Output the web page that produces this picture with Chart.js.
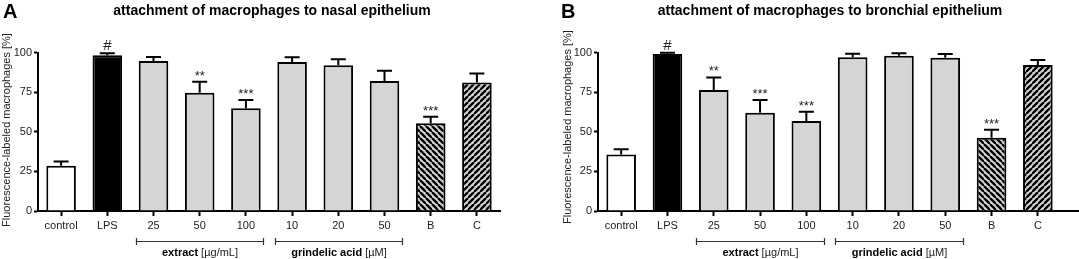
<!DOCTYPE html>
<html>
<head>
<meta charset="utf-8">
<script src="https://cdn.jsdelivr.net/npm/chart.js@4.4.1/dist/chart.umd.min.js"></script>
<style>
  html, body { margin: 0; padding: 0; background: #fff; }
  #wrap { position: relative; width: 1079px; height: 259px; }
  canvas { position: absolute; top: 0; }
</style>
</head>
<body>
<div id="wrap">
  <canvas id="nasal" width="540" height="259" style="left:0"></canvas>
  <canvas id="bronchial" width="539" height="259" style="left:540px"></canvas>
</div>
<script>
// categories / tick labels
const groups = ['control', 'LPS', '25', '50', '100', '10', '20', '50', 'B', 'C'];
const yTicks = [0, 25, 50, 75, 100];

// panel A: nasal epithelium (mean and upper error)
const nasalMean = [28.5, 98.3, 94.6, 74.6, 64.8, 94.0, 92.0, 82.0, 55.3, 81.0];
const nasalErr  = [2.7, 1.2, 2.6, 7.0, 5.2, 3.0, 3.8, 6.5, 4.2, 5.7];
const nasalSig  = ['', '#', '', '**', '***', '', '', '', '***', ''];

// panel B: bronchial epithelium
const bronchMean = [35.7, 99.0, 76.3, 62.0, 56.8, 97.0, 98.0, 96.7, 46.2, 92.1];
const bronchErr  = [3.2, 0.8, 8.0, 8.0, 5.8, 2.2, 1.5, 2.3, 5.0, 3.2];
const bronchSig  = ['', '#', '**', '***', '***', '', '', '', '***', ''];

const GRAY = '#d5d5d5';
const FONT = '"Liberation Sans", Arial, sans-serif';
const TXT = '#222';

function hatch(dir) {
    const s = 6;
    const c = document.createElement('canvas');
    c.width = s; c.height = s;
    const g = c.getContext('2d');
    g.fillStyle = GRAY;
    g.fillRect(0, 0, s, s);
    g.strokeStyle = '#000';
    g.lineWidth = 2.3;
    for (const k of [-s, 0, s]) {
        g.beginPath();
        if (dir > 0) { g.moveTo(k, 0); g.lineTo(k + s, s); }
        else { g.moveTo(k + s, 0); g.lineTo(k, s); }
        g.stroke();
    }
    return g.createPattern(c, 'repeat');
}

const fills = ['#ffffff', '#000000', GRAY, GRAY, GRAY, GRAY, GRAY, GRAY, hatch(1), hatch(-1)];

function veBieuDo(id, p) {
    const ctx = document.getElementById(id).getContext('2d');

    const trangTri = {
        id: 'trangTri',
        afterDatasetsDraw(chart) {
            const c = chart.ctx;
            const y = chart.scales.y;
            const meta = chart.getDatasetMeta(0);
            c.save();
            c.strokeStyle = '#000';
            c.lineWidth = 2;
            meta.data.forEach((bar, i) => {
                const top = y.getPixelForValue(p.mean[i] + p.err[i]);
                c.beginPath();
                c.moveTo(bar.x, bar.y);
                c.lineTo(bar.x, top);
                c.moveTo(bar.x - 7.5, top);
                c.lineTo(bar.x + 7.5, top);
                c.stroke();
                if (p.sig[i]) {
                    c.fillStyle = TXT;
                    c.textAlign = 'center';
                    c.textBaseline = 'alphabetic';
                    if (p.sig[i] === '#') {
                        c.font = '15px ' + FONT;
                        c.fillText('#', bar.x, top - 3);
                    } else {
                        c.font = '13px ' + FONT;
                        c.fillText(p.sig[i], bar.x, top - 2);
                    }
                }
            });
            c.restore();
        },
        afterDraw(chart) {
            const c = chart.ctx;
            const x = chart.scales.x;
            const area = chart.chartArea;
            c.save();
            c.fillStyle = '#000';
            c.textBaseline = 'middle';

            // panel letter
            c.font = 'bold 20px ' + FONT;
            c.textAlign = 'left';
            c.fillText(p.letter, p.letterX, 12);

            // title
            c.font = 'bold 14px ' + FONT;
            c.textAlign = 'center';
            c.fillText(p.title, p.titleX, 11);

            // y axis title
            c.fillStyle = TXT;
            c.font = '11px ' + FONT;
            c.translate(p.yTitleX, p.yTitleY);
            c.rotate(-Math.PI / 2);
            c.fillText('Fluorescence-labeled macrophages [%]', 0, 0);
            c.setTransform(1, 0, 0, 1, 0, 0);

            // extend x axis line if needed
            if (p.axisEnd > area.right) {
                c.strokeStyle = '#000';
                c.lineWidth = 2;
                c.beginPath();
                c.moveTo(area.right - 1, Math.round(area.bottom));
                c.lineTo(p.axisEnd, Math.round(area.bottom));
                c.stroke();
            }

            // group brackets below axis
            const step = x.getPixelForValue(1) - x.getPixelForValue(0);
            const brackets = [
                { from: 2, to: 4, bold: 'extract', rest: ' [µg/mL]' },
                { from: 5, to: 7, bold: 'grindelic acid', rest: ' [µM]' }
            ];
            const by = 241;
            c.strokeStyle = '#333';
            c.lineWidth = 1.2;
            brackets.forEach(b => {
                const x1 = Math.round(x.getPixelForValue(b.from) - step * 0.38) + 0.5;
                const x2 = Math.round(x.getPixelForValue(b.to) + step * 0.38) + 0.5;
                c.beginPath();
                c.moveTo(x1, by + 0.5);
                c.lineTo(x2, by + 0.5);
                c.moveTo(x1, by - 3);
                c.lineTo(x1, by + 4);
                c.moveTo(x2, by - 3);
                c.lineTo(x2, by + 4);
                c.stroke();

                c.font = 'bold 11px ' + FONT;
                const w1 = c.measureText(b.bold).width;
                c.font = '11px ' + FONT;
                const w2 = c.measureText(b.rest).width;
                let sx = (x1 + x2) / 2 - (w1 + w2) / 2;
                c.textAlign = 'left';
                c.fillStyle = '#000';
                c.font = 'bold 11px ' + FONT;
                c.fillText(b.bold, sx, 253);
                c.fillStyle = TXT;
                c.font = '11px ' + FONT;
                c.fillText(b.rest, sx + w1, 253);
            });
            c.restore();
        }
    };

    return new Chart(ctx, {
        type: 'bar',
        data: {
            labels: groups,
            datasets: [{
                data: p.mean,
                backgroundColor: fills,
                borderColor: '#000',
                borderWidth: 2,
                categoryPercentage: 1,
                barPercentage: 0.64
            }]
        },
        options: {
            responsive: false,
            animation: false,
            devicePixelRatio: 1,
            layout: { padding: { top: 52.5, right: p.padRight, left: 0, bottom: 0 } },
            plugins: {
                legend: { display: false },
                tooltip: { enabled: false }
            },
            scales: {
                x: {
                    grid: { display: true, drawOnChartArea: false, offset: false, drawTicks: true, tickLength: 5, tickWidth: 2, tickColor: '#000' },
                    border: { display: true, color: '#000', width: 2 },
                    ticks: { color: TXT, font: { family: FONT, size: 11 }, padding: 3, maxRotation: 0, autoSkip: false },
                    afterFit: s => { s.height = 48; }
                },
                y: {
                    min: 0,
                    max: 100,
                    afterBuildTicks: s => { s.ticks = yTicks.map(v => ({ value: v })); },
                    grid: { display: true, drawOnChartArea: false, drawTicks: true, tickLength: 4, tickWidth: 2, tickColor: '#000' },
                    border: { display: true, color: '#000', width: 2 },
                    ticks: { color: TXT, font: { family: FONT, size: 11 }, padding: 2 },
                    afterFit: s => { s.width = p.axisX; }
                }
            }
        },
        plugins: [trangTri]
    });
}

veBieuDo('nasal', {
    mean: nasalMean, err: nasalErr, sig: nasalSig,
    letter: 'A', letterX: 3,
    title: 'attachment of macrophages to nasal epithelium', titleX: 272,
    yTitleX: 7, yTitleY: 130,
    axisX: 38, padRight: 40, axisEnd: 500
});

veBieuDo('bronchial', {
    mean: bronchMean, err: bronchErr, sig: bronchSig,
    letter: 'B', letterX: 21,
    title: 'attachment of macrophages to bronchial epithelium', titleX: 290,
    yTitleX: 28, yTitleY: 127,
    axisX: 58, padRight: 18, axisEnd: 539
});
</script>
</body>
</html>
